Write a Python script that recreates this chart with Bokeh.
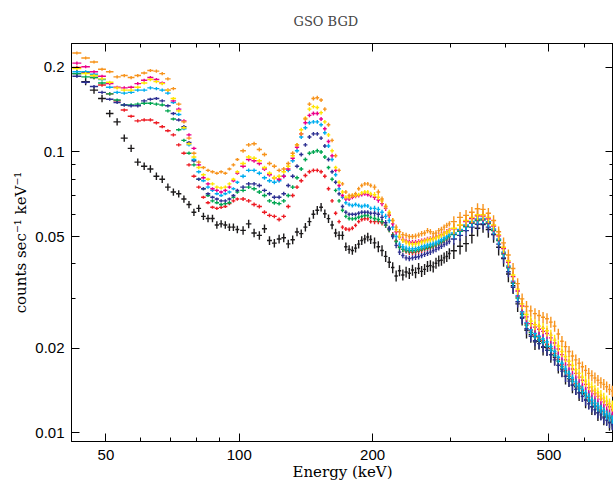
from bokeh.plotting import figure
from bokeh.models import Range1d, LogAxis, FixedTicker, ColumnDataSource, CustomJSTickFormatter
from bokeh.embed import file_html
from bokeh.resources import INLINE

# ---------------- data ----------------
# bin centres (keV), four groups with different bin widths
E1 = [43, 45, 47, 49, 51, 53, 55, 57, 59, 61, 63, 65, 67, 69, 71, 73, 75, 77, 79, 81,
      83, 85, 87, 89, 91, 93, 95, 97, 99]
E2 = [102, 105, 108, 111, 114, 117, 120, 123, 126, 129, 132, 135, 138, 141, 144, 147,
      150, 153, 156, 159, 162, 165, 168, 171, 174, 177, 180, 183, 186, 189, 192, 195, 198]
E3 = [202, 206, 210, 214, 218, 222, 226, 230, 234, 238, 242, 246, 250, 254, 258, 262,
      266, 270, 274, 278, 282, 286, 290, 294, 298]
E4 = [305, 315, 325, 335, 345, 355, 365, 375, 385, 395, 405, 415, 425, 435, 445, 455,
      465, 475, 485, 495, 505, 515, 525, 535, 545, 555, 565, 575, 585, 595, 605, 615,
      625, 635, 645, 655, 665, 675, 685, 695]
bin_half_width = [1.0, 1.5, 2.0, 5.0]          # keV, per group
rel_err_black = [0.030, 0.035, 0.045, 0.065]   # per group
rel_err_color = [0.013, 0.016, 0.022, 0.045]   # per group

black = [0.190, 0.178, 0.166, 0.155, 0.137, 0.128, 0.112, 0.103, 0.092, 0.089, 0.087, 0.082, 0.080, 0.075, 0.072,
         0.071, 0.068, 0.065, 0.061, 0.063, 0.059, 0.058, 0.058, 0.055, 0.0555, 0.055, 0.054, 0.054, 0.053,
         0.0526, 0.0555, 0.0515, 0.0505, 0.0533, 0.0484, 0.0474, 0.0490, 0.0495, 0.0471, 0.0487, 0.0519, 0.0512,
         0.0540, 0.0565, 0.0600, 0.0620, 0.0636, 0.0603, 0.0579, 0.0550, 0.0515, 0.0505, 0.0505, 0.0460, 0.0450,
         0.0446, 0.0455, 0.0470, 0.0484, 0.0490, 0.0498, 0.0488,
         0.0475, 0.0460, 0.0446, 0.0425, 0.0405, 0.0388, 0.0362, 0.0378, 0.0365, 0.0374, 0.0370, 0.0380, 0.0372,
         0.0385, 0.0376, 0.0382, 0.0392, 0.0394, 0.0390, 0.0402, 0.0410, 0.0412, 0.0420, 0.0425, 0.0435,
         0.0445, 0.0462, 0.0472, 0.0505, 0.0535, 0.0552, 0.0530, 0.0508, 0.0458, 0.0418, 0.0368, 0.0334, 0.0288,
         0.0258, 0.0232, 0.0224, 0.0211, 0.0212, 0.0202, 0.0201, 0.0190, 0.0186, 0.0174, 0.0169, 0.0159, 0.0156,
         0.0148, 0.0146, 0.0139, 0.0138, 0.0131, 0.0130, 0.0124, 0.0124, 0.0118, 0.0119, 0.0114, 0.0114, 0.0109,
         0.0110]
red = [0.200, 0.192, 0.184, 0.173, 0.161, 0.152, 0.141, 0.134, 0.129, 0.130, 0.130, 0.127, 0.123, 0.119, 0.115,
       0.106, 0.099, 0.090, 0.082, 0.075, 0.069, 0.066, 0.0636, 0.063, 0.0635, 0.064, 0.0655, 0.067, 0.068,
       0.068, 0.067, 0.065, 0.064, 0.061, 0.0595, 0.059, 0.0575, 0.059, 0.064, 0.070, 0.075, 0.079, 0.0825,
       0.085, 0.086, 0.086, 0.085, 0.082, 0.074, 0.067, 0.0605, 0.0565, 0.054, 0.0532, 0.053, 0.0535, 0.0548,
       0.0565, 0.0575, 0.0579, 0.0578, 0.0565,
       0.0565, 0.0565, 0.0560, 0.0548, 0.0530, 0.0508, 0.0482, 0.0462, 0.0450, 0.0444, 0.0440, 0.0439, 0.0440,
       0.0443, 0.0447, 0.0451, 0.0454, 0.0457, 0.0461, 0.0466, 0.0471, 0.0477, 0.0484, 0.0491, 0.0499,
       0.0510, 0.0526, 0.0546, 0.0561, 0.0574, 0.0576, 0.0560, 0.0528, 0.0487, 0.0437, 0.0390, 0.0344, 0.0305,
       0.0267, 0.0245, 0.0231, 0.0223, 0.0218, 0.0213, 0.0207, 0.0200, 0.0192, 0.0183, 0.0175, 0.0167, 0.0161,
       0.0155, 0.0150, 0.0146, 0.0142, 0.0138, 0.0134, 0.0130, 0.0127, 0.0124, 0.0121, 0.0119, 0.0116, 0.0114,
       0.0112]
green = [0.190, 0.185, 0.184, 0.176, 0.161, 0.153, 0.147, 0.147, 0.148, 0.149, 0.149, 0.148, 0.147, 0.140, 0.131,
         0.120, 0.110, 0.099, 0.090, 0.080, 0.074, 0.070, 0.067, 0.066, 0.065, 0.0655, 0.066, 0.069, 0.072,
         0.073, 0.075, 0.074, 0.072, 0.070, 0.067, 0.066, 0.0655, 0.067, 0.070, 0.075, 0.081, 0.087, 0.094,
         0.099, 0.100, 0.101, 0.100, 0.096, 0.088, 0.080, 0.073, 0.067, 0.0620, 0.0590, 0.0580, 0.0578, 0.0580,
         0.0586, 0.0590, 0.0594, 0.0594, 0.0585,
         0.0580, 0.0575, 0.0565, 0.0550, 0.0530, 0.0505, 0.0480, 0.0458, 0.0450, 0.0447, 0.0445, 0.0445, 0.0446,
         0.0449, 0.0452, 0.0455, 0.0458, 0.0461, 0.0465, 0.0469, 0.0474, 0.0480, 0.0487, 0.0494, 0.0502,
         0.0508, 0.0522, 0.0542, 0.0557, 0.0570, 0.0572, 0.0556, 0.0525, 0.0484, 0.0433, 0.0387, 0.0341, 0.0302,
         0.0264, 0.0242, 0.0228, 0.0220, 0.0215, 0.0210, 0.0204, 0.0197, 0.0189, 0.0180, 0.0172, 0.0165, 0.0159,
         0.0153, 0.0148, 0.0144, 0.0140, 0.0136, 0.0132, 0.0128, 0.0125, 0.0122, 0.0120, 0.0117, 0.0115, 0.0113,
         0.0110]
navy = [0.186, 0.177, 0.171, 0.163, 0.154, 0.150, 0.147, 0.146, 0.146, 0.152, 0.154, 0.155, 0.152, 0.146, 0.137,
        0.130, 0.123, 0.108, 0.093, 0.080, 0.074, 0.071, 0.069, 0.068, 0.067, 0.067, 0.068, 0.070, 0.073,
        0.075, 0.077, 0.077, 0.076, 0.073, 0.071, 0.069, 0.069, 0.071, 0.076, 0.082, 0.089, 0.098, 0.106,
        0.113, 0.116, 0.116, 0.112, 0.105, 0.094, 0.085, 0.078, 0.071, 0.064, 0.061, 0.060, 0.060, 0.060,
        0.0605, 0.061, 0.061, 0.061, 0.0605,
        0.0605, 0.0600, 0.0585, 0.0560, 0.0535, 0.0500, 0.0465, 0.0440, 0.0428, 0.0420, 0.0418, 0.0420, 0.0422,
        0.0424, 0.0428, 0.0432, 0.0436, 0.0440, 0.0445, 0.0450, 0.0456, 0.0462, 0.0468, 0.0474, 0.0480,
        0.0490, 0.0505, 0.0525, 0.0540, 0.0553, 0.0555, 0.0540, 0.0510, 0.0470, 0.0420, 0.0375, 0.0330, 0.0293,
        0.0256, 0.0235, 0.0221, 0.0213, 0.0208, 0.0203, 0.0197, 0.0190, 0.0182, 0.0174, 0.0166, 0.0159, 0.0153,
        0.0148, 0.0143, 0.0139, 0.0135, 0.0131, 0.0127, 0.0124, 0.0121, 0.0118, 0.0116, 0.0113, 0.0111, 0.0109,
        0.0107]
cyan = [0.193, 0.193, 0.189, 0.181, 0.170, 0.163, 0.162, 0.163, 0.166, 0.166, 0.169, 0.168, 0.166, 0.162, 0.150,
        0.136, 0.121, 0.106, 0.094, 0.085, 0.079, 0.075, 0.073, 0.071, 0.070, 0.071, 0.072, 0.074, 0.078,
        0.082, 0.086, 0.086, 0.084, 0.081, 0.079, 0.078, 0.079, 0.082, 0.086, 0.093, 0.101, 0.113, 0.122,
        0.127, 0.128, 0.128, 0.125, 0.117, 0.105, 0.094, 0.083, 0.074, 0.069, 0.066, 0.065, 0.0645, 0.065,
        0.0645, 0.064, 0.0645, 0.0642, 0.0630,
        0.0630, 0.0625, 0.0610, 0.0590, 0.0570, 0.0540, 0.0500, 0.0470, 0.0460, 0.0455, 0.0452, 0.0452, 0.0453,
        0.0456, 0.0460, 0.0463, 0.0466, 0.0469, 0.0472, 0.0476, 0.0481, 0.0487, 0.0494, 0.0500, 0.0508,
        0.0515, 0.0530, 0.0550, 0.0566, 0.0578, 0.0580, 0.0565, 0.0532, 0.0490, 0.0440, 0.0393, 0.0347, 0.0308,
        0.0270, 0.0247, 0.0233, 0.0226, 0.0221, 0.0216, 0.0211, 0.0203, 0.0195, 0.0186, 0.0177, 0.0169, 0.0163,
        0.0157, 0.0152, 0.0147, 0.0143, 0.0139, 0.0135, 0.0131, 0.0128, 0.0125, 0.0123, 0.0120, 0.0117, 0.0115,
        0.0113]
magenta = [0.207, 0.201, 0.193, 0.186, 0.175, 0.170, 0.169, 0.170, 0.175, 0.180, 0.184, 0.181, 0.176, 0.166, 0.152,
           0.142, 0.129, 0.115, 0.103, 0.090, 0.081, 0.077, 0.074, 0.073, 0.072, 0.073, 0.075, 0.079, 0.084,
           0.089, 0.094, 0.093, 0.091, 0.087, 0.083, 0.081, 0.080, 0.082, 0.087, 0.095, 0.104, 0.116, 0.127,
           0.135, 0.137, 0.137, 0.131, 0.121, 0.109, 0.097, 0.086, 0.076, 0.070, 0.068, 0.068, 0.069, 0.0695,
           0.070, 0.0705, 0.071, 0.0705, 0.070,
           0.069, 0.0675, 0.0655, 0.063, 0.0595, 0.0555, 0.052, 0.0498, 0.0488, 0.0482, 0.0478, 0.0476, 0.0477,
           0.0479, 0.0482, 0.0485, 0.0488, 0.0491, 0.0494, 0.0498, 0.0503, 0.0508, 0.0514, 0.0520, 0.0526,
           0.0533, 0.0548, 0.0566, 0.0580, 0.0593, 0.0592, 0.0578, 0.0545, 0.0503, 0.0453, 0.0405, 0.0360, 0.0320,
           0.0283, 0.0259, 0.0245, 0.0238, 0.0234, 0.0230, 0.0226, 0.0218, 0.0209, 0.0199, 0.0190, 0.0182, 0.0175,
           0.0169, 0.0163, 0.0158, 0.0154, 0.0149, 0.0145, 0.0141, 0.0138, 0.0135, 0.0132, 0.0129, 0.0126, 0.0124,
           0.0121]
yellow = [0.198, 0.190, 0.187, 0.182, 0.177, 0.169, 0.166, 0.166, 0.170, 0.176, 0.181, 0.178, 0.175, 0.166, 0.155,
          0.140, 0.122, 0.107, 0.096, 0.088, 0.083, 0.080, 0.077, 0.075, 0.0745, 0.075, 0.077, 0.080, 0.085,
          0.091, 0.096, 0.095, 0.093, 0.088, 0.084, 0.081, 0.082, 0.085, 0.089, 0.097, 0.106, 0.120, 0.132,
          0.142, 0.145, 0.144, 0.138, 0.128, 0.115, 0.101, 0.088, 0.078, 0.072, 0.069, 0.069, 0.070, 0.070,
          0.0705, 0.0715, 0.072, 0.072, 0.071,
          0.0705, 0.069, 0.067, 0.064, 0.061, 0.057, 0.053, 0.050, 0.0485, 0.0478, 0.0472, 0.0470, 0.0471,
          0.0474, 0.0478, 0.0482, 0.0486, 0.0488, 0.0491, 0.0495, 0.0500, 0.0506, 0.0512, 0.0518, 0.0524,
          0.0535, 0.0550, 0.0570, 0.0585, 0.0598, 0.0598, 0.0585, 0.0550, 0.0508, 0.0458, 0.0410, 0.0365, 0.0325,
          0.0288, 0.0264, 0.0250, 0.0243, 0.0240, 0.0236, 0.0231, 0.0223, 0.0214, 0.0204, 0.0195, 0.0187, 0.0180,
          0.0174, 0.0168, 0.0163, 0.0158, 0.0153, 0.0149, 0.0146, 0.0142, 0.0139, 0.0136, 0.0133, 0.0130, 0.0127,
          0.0125]
orange = [0.225, 0.216, 0.209, 0.197, 0.193, 0.185, 0.187, 0.184, 0.187, 0.191, 0.195, 0.194, 0.190, 0.182, 0.168,
          0.148, 0.128, 0.112, 0.099, 0.092, 0.088, 0.086, 0.085, 0.084, 0.085, 0.084, 0.087, 0.090, 0.094,
          0.101, 0.106, 0.107, 0.102, 0.098, 0.091, 0.089, 0.086, 0.087, 0.091, 0.099, 0.106, 0.116, 0.131,
          0.148, 0.155, 0.156, 0.153, 0.142, 0.125, 0.110, 0.097, 0.086, 0.077, 0.072, 0.070, 0.070, 0.071,
          0.074, 0.076, 0.077, 0.077, 0.076,
          0.075, 0.072, 0.068, 0.064, 0.060, 0.057, 0.054, 0.052, 0.0508, 0.0505, 0.0500, 0.0500, 0.0502,
          0.0506, 0.0512, 0.0515, 0.0525, 0.0520, 0.0512, 0.0515, 0.0525, 0.0530, 0.0540, 0.0548, 0.0555,
          0.0565, 0.0585, 0.0595, 0.0610, 0.0628, 0.0625, 0.0605, 0.0570, 0.0520, 0.0475, 0.0430, 0.0385, 0.0340,
          0.0300, 0.0282, 0.0272, 0.0266, 0.0262, 0.0258, 0.0255, 0.0248, 0.0240, 0.0225, 0.0212, 0.0203, 0.0195,
          0.0188, 0.0182, 0.0177, 0.0172, 0.0167, 0.0163, 0.0160, 0.0157, 0.0154, 0.0151, 0.0149, 0.0146, 0.0143,
          0.0141]

series = [
    ("black", black, "#1c1a1b", rel_err_black),
    ("red", red, "#ed1c24", rel_err_color),
    ("green", green, "#00a651", rel_err_color),
    ("navy", navy, "#2e3192", rel_err_color),
    ("cyan", cyan, "#00aeef", rel_err_color),
    ("magenta", magenta, "#ec008c", rel_err_color),
    ("yellow", yellow, "#ffe600", rel_err_color),
    ("orange", orange, "#f7941d", rel_err_color),
]

x_major = [50, 100, 200, 500]
x_minor = [60, 70, 80, 90, 300, 400, 600, 700]
y_major = [0.01, 0.02, 0.05, 0.1, 0.2]
y_minor = [0.03, 0.04, 0.06, 0.07, 0.08, 0.09]

# ---------------- figure ----------------
p = figure(width=613, height=485, x_axis_type="log", y_axis_type="log",
           x_range=Range1d(41.81, 699.4), y_range=Range1d(0.009327, 0.2432),
           output_backend="svg", toolbar_location=None,
           min_border_left=71, min_border_right=0, min_border_top=43, min_border_bottom=44,
           title="GSO BGD")
p.background_fill_color = "white"
p.border_fill_color = "white"
p.outline_line_color = "black"
p.outline_line_width = 1
p.xgrid.visible = False
p.ygrid.visible = False

p.title.text_font = "DejaVu Serif"
p.title.text_font_size = "13px"
p.title.text_font_style = "normal"
p.title.align = "left"
p.title.offset = 222
p.title.vertical_align = "top"
p.title.standoff = 26


def style_axis(ax, major, minor, labels):
    ax.ticker = FixedTicker(ticks=major, minor_ticks=minor)
    ax.major_tick_in = 8
    ax.major_tick_out = 0
    ax.minor_tick_in = 4
    ax.minor_tick_out = 0
    ax.axis_line_color = "black"
    ax.major_tick_line_color = "black"
    ax.minor_tick_line_color = "black"
    if labels:
        ax.formatter = CustomJSTickFormatter(code="return tick.toString();")
        ax.major_label_text_font = "Liberation Sans"
        ax.major_label_text_font_size = "15px"
        ax.major_label_text_color = "black"
        ax.axis_label_text_font = "DejaVu Serif"
        ax.axis_label_text_font_size = "15px"
        ax.axis_label_text_font_style = "normal"
        ax.axis_label_text_color = "black"
    else:
        ax.formatter = CustomJSTickFormatter(code="return '';")
        ax.major_label_text_font_size = "0px"
        ax.major_label_standoff = 0


xa = p.xaxis[0]
style_axis(xa, x_major, x_minor, True)
xa.axis_label = "Energy (keV)"
xa.major_label_standoff = 8
xa.axis_label_standoff = 0

ya = p.yaxis[0]
style_axis(ya, y_major, y_minor, True)
ya.axis_label = "counts sec\u207b\u00b9 keV\u207b\u00b9"
ya.major_label_standoff = 7
ya.axis_label_standoff = 2

top = LogAxis()
style_axis(top, x_major, x_minor, False)
p.add_layout(top, "above")
right = LogAxis()
style_axis(right, y_major, y_minor, False)
p.add_layout(right, "right")

# ---------------- crosses with error bars ----------------
groups = [E1, E2, E3, E4]
for name, vals, color, rel in series:
    xs, x0, x1, y0, y1 = [], [], [], [], []
    k = 0
    for gi, grp in enumerate(groups):
        for e in grp:
            v = vals[k]
            xs.append(e)
            x0.append(e - bin_half_width[gi])
            x1.append(e + bin_half_width[gi])
            y0.append(v * (1 - rel[gi]))
            y1.append(v * (1 + rel[gi]))
            k += 1
    src = ColumnDataSource(dict(x=xs, y=vals, x0=x0, x1=x1, y0=y0, y1=y1))
    p.segment(x0="x0", y0="y", x1="x1", y1="y", source=src, line_color=color, line_width=1.4)
    p.segment(x0="x", y0="y0", x1="x", y1="y1", source=src, line_color=color, line_width=1.4)

open("out.html", "w").write(file_html(p, INLINE))
